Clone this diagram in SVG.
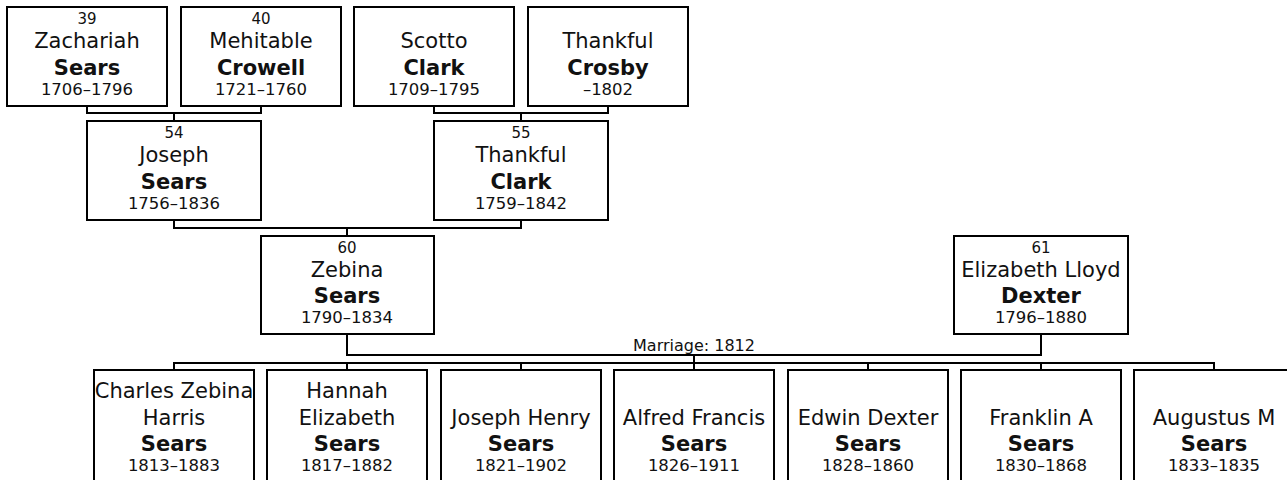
<svg xmlns="http://www.w3.org/2000/svg" width="1287" height="480" viewBox="0 0 1287 480">
<style>
rect.box{fill:#fff;stroke:#000;stroke-width:2}
.c path{fill:none;stroke:#000;stroke-width:2}
text{font-family:"DejaVu Sans",Verdana,sans-serif;fill:#111;text-anchor:middle}
.n{font-size:15px}
.g{font-size:21px}
.s{font-size:21px;font-weight:bold}
.d{font-size:16.5px}
.m{font-size:16px}
</style>
<rect width="1287" height="480" fill="#fff"/>
<g class="c" id="connectors">
<path d="M87 106V113H261V106M174 113V121"/>
<path d="M434 106V113H608V106M521 113V121"/>
<path d="M174 220V228H521V220M347 228V236"/>
<path d="M347 334V355H1041V334M694 355V363"/>
<path d="M174 370V363H1214V370M347 363V370M521 363V370M694 363V370M868 363V370M1041 363V370"/>
<text class="m" x="694" y="351">Marriage: 1812</text>
</g>
<g id="p39"><rect class="box" x="7" y="7" width="160" height="99"/><text class="n" x="87" y="24">39</text><text class="g" x="87" y="48">Zachariah</text><text class="s" x="87" y="75">Sears</text><text class="d" x="87" y="95">1706–1796</text></g>
<g id="p40"><rect class="box" x="181" y="7" width="160" height="99"/><text class="n" x="261" y="24">40</text><text class="g" x="261" y="48">Mehitable</text><text class="s" x="261" y="75">Crowell</text><text class="d" x="261" y="95">1721–1760</text></g>
<g id="scotto"><rect class="box" x="354" y="7" width="160" height="99"/><text class="g" x="434" y="48">Scotto</text><text class="s" x="434" y="75">Clark</text><text class="d" x="434" y="95">1709–1795</text></g>
<g id="crosby"><rect class="box" x="528" y="7" width="160" height="99"/><text class="g" x="608" y="48">Thankful</text><text class="s" x="608" y="75">Crosby</text><text class="d" x="608" y="95">–1802</text></g>
<g id="p54"><rect class="box" x="87" y="121" width="174" height="99"/><text class="n" x="174" y="138">54</text><text class="g" x="174" y="162">Joseph</text><text class="s" x="174" y="189">Sears</text><text class="d" x="174" y="209">1756–1836</text></g>
<g id="p55"><rect class="box" x="434" y="121" width="174" height="99"/><text class="n" x="521" y="138">55</text><text class="g" x="521" y="162">Thankful</text><text class="s" x="521" y="189">Clark</text><text class="d" x="521" y="209">1759–1842</text></g>
<g id="p60"><rect class="box" x="261" y="236" width="173" height="98"/><text class="n" x="347" y="253">60</text><text class="g" x="347" y="277">Zebina</text><text class="s" x="347" y="303">Sears</text><text class="d" x="347" y="323">1790–1834</text></g>
<g id="p61"><rect class="box" x="954" y="236" width="174" height="98"/><text class="n" x="1041" y="253">61</text><text class="g" x="1041" y="277">Elizabeth Lloyd</text><text class="s" x="1041" y="303">Dexter</text><text class="d" x="1041" y="323">1796–1880</text></g>
<g id="c1"><rect class="box" x="94" y="370" width="160" height="120"/><text class="g" x="174" y="398">Charles Zebina</text><text class="g" x="174" y="425">Harris</text><text class="s" x="174" y="451">Sears</text><text class="d" x="174" y="471">1813–1883</text></g>
<g id="c2"><rect class="box" x="267" y="370" width="160" height="120"/><text class="g" x="347" y="398">Hannah</text><text class="g" x="347" y="425">Elizabeth</text><text class="s" x="347" y="451">Sears</text><text class="d" x="347" y="471">1817–1882</text></g>
<g id="c3"><rect class="box" x="441" y="370" width="160" height="120"/><text class="g" x="521" y="425">Joseph Henry</text><text class="s" x="521" y="451">Sears</text><text class="d" x="521" y="471">1821–1902</text></g>
<g id="c4"><rect class="box" x="614" y="370" width="160" height="120"/><text class="g" x="694" y="425">Alfred Francis</text><text class="s" x="694" y="451">Sears</text><text class="d" x="694" y="471">1826–1911</text></g>
<g id="c5"><rect class="box" x="788" y="370" width="160" height="120"/><text class="g" x="868" y="425">Edwin Dexter</text><text class="s" x="868" y="451">Sears</text><text class="d" x="868" y="471">1828–1860</text></g>
<g id="c6"><rect class="box" x="961" y="370" width="160" height="120"/><text class="g" x="1041" y="425">Franklin A</text><text class="s" x="1041" y="451">Sears</text><text class="d" x="1041" y="471">1830–1868</text></g>
<g id="c7"><rect class="box" x="1134" y="370" width="160" height="120"/><text class="g" x="1214" y="425">Augustus M</text><text class="s" x="1214" y="451">Sears</text><text class="d" x="1214" y="471">1833–1835</text></g>
</svg>
